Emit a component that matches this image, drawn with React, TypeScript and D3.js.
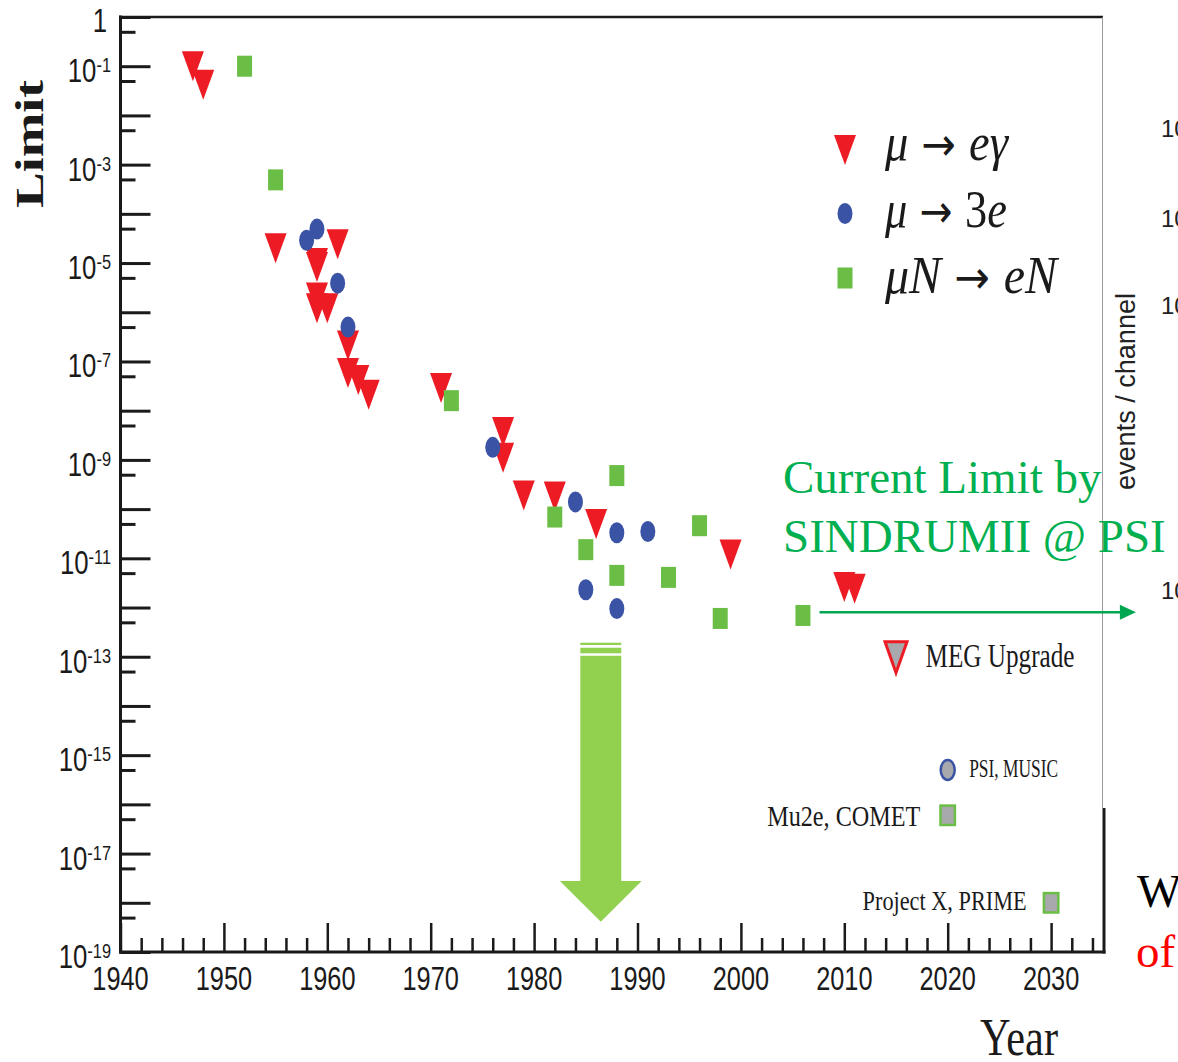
import React, { useEffect, useRef } from "react";
import * as d3 from "d3";

// mu -> e gamma limits
const megYears = [1947, 1948, 1955, 1959, 1959, 1961, 1959, 1959, 1960, 1962, 1962, 1963, 1964, 1971, 1977, 1977, 1979, 1982, 1986, 1999, 2010, 2011];
const megLimits = [1.0e-1, 4.2e-2, 2.0e-5, 1.0e-5, 8.3e-6, 2.4e-5, 2.0e-6, 1.2e-6, 1.2e-6, 2.1e-7, 5.8e-8, 4.2e-8, 2.1e-8, 2.9e-8, 3.7e-9, 1.1e-9, 1.9e-10, 1.8e-10, 5.0e-11, 1.2e-11, 2.6e-12, 2.4e-12];

// mu -> 3e limits
const m3eYears = [1958, 1959, 1961, 1962, 1976, 1984, 1988, 1991, 1985, 1988];
const m3eLimits = [2.9e-5, 4.9e-5, 3.9e-6, 5.0e-7, 1.8e-9, 1.4e-10, 3.3e-11, 3.5e-11, 2.3e-12, 9.5e-13];

// mu N -> e N limits
const convYears = [1952, 1955, 1972, 1988, 1982, 1996, 1985, 1988, 1993, 1998, 2006];
const convLimits = [1.0e-1, 4.9e-4, 1.6e-8, 4.8e-10, 6.9e-11, 4.6e-11, 1.5e-11, 4.5e-12, 4.1e-12, 6.0e-13, 6.9e-13];

// planned experiments
const futureNames = ["MEG Upgrade", "PSI, MUSIC", "Mu2e, COMET", "Project X, PRIME"];
const futureKinds = ["tri", "circ", "sq", "sq"];
const futureYears = [2015, 2020, 2020, 2030];
const futureLimits = [1e-13, 5e-16, 6e-17, 1e-18];

const legendLabels = ["μ → eγ", "μ → 3e", "μN → eN"];
const legendKinds = ["tri", "circ", "sq"];

const yearTicks = [1940, 1950, 1960, 1970, 1980, 1990, 2000, 2010, 2020, 2030];
const decadeExps = d3.range(0, -20, -1);
const labelExps = [0, -1, -3, -5, -7, -9, -11, -13, -15, -17, -19];

// SINDRUM II current limit arrow, and the big improvement arrow (log10 values)
const currentLimit = 8e-13;
const currentArrowYears = [2007.6, 2038.2];
const bigArrowYear = 1986.45;
const bigArrowExps = [-12.715, -12.762, -12.817, -12.93, -12.979, -17.557, -18.384];

const RED = "#ED1C24";
const BLUE = "#3A53A4";
const GREEN = "#6BBE45";
const GREY = "#A7A9AC";
const INK = "#1a1a1a";
const SANS = "'Liberation Sans', Arial, sans-serif";
const SERIF = "'Liberation Serif', 'Times New Roman', serif";

const triPath = "M-11,-15L11,-15L0,15Z";

export default function App() {
  const ref = useRef<SVGSVGElement>(null);

  useEffect(() => {
    const svg = d3.select(ref.current);
    svg.selectAll("*").remove();

    const x = d3.scaleLinear().domain([1940, 2035]).range([120.5, 1102.8]);
    const y = d3.scaleLog().domain([1, 1e-19]).range([17, 952]);

    const addAxis = (axis: any, transform: string, w: number) => {
      const g = svg.append("g").attr("transform", transform).call(axis);
      g.select(".domain").remove();
      g.selectAll(".tick text").remove();
      g.selectAll(".tick line").attr("stroke", INK).attr("stroke-width", w);
      return g;
    };

    const majorY = decadeExps.map((e) => Math.pow(10, e));
    const minorY = decadeExps.slice(1).map((e) => 5 * Math.pow(10, e));
    addAxis(d3.axisLeft(y).tickValues(majorY).tickSizeInner(-30).tickSizeOuter(0), "translate(120.5,0)", 3);
    addAxis(d3.axisLeft(y).tickValues(minorY).tickSizeInner(-15).tickSizeOuter(0), "translate(120.5,0)", 3);

    const minorYears = d3.range(1942, 2036, 2).filter((v) => v % 10 !== 0);
    addAxis(d3.axisBottom(x).tickValues(yearTicks).tickSizeInner(-29).tickSizeOuter(0), "translate(0,952)", 2.5);
    addAxis(d3.axisBottom(x).tickValues(minorYears).tickSizeInner(-14).tickSizeOuter(0), "translate(0,952)", 2.5);

    // frame
    const frame = svg.append("g").attr("fill", "none");
    frame.append("line").attr("x1", 120.5).attr("x2", 120.5).attr("y1", 15.5).attr("y2", 953.5).attr("stroke", INK).attr("stroke-width", 3);
    frame.append("line").attr("x1", 119).attr("x2", 1105.5).attr("y1", 952).attr("y2", 952).attr("stroke", INK).attr("stroke-width", 3);
    frame.append("line").attr("x1", 119).attr("x2", 1103).attr("y1", 17).attr("y2", 17).attr("stroke", INK).attr("stroke-width", 2.5);
    frame.append("line").attr("x1", 1102.5).attr("x2", 1102.5).attr("y1", 17).attr("y2", 808).attr("stroke", "#9a9a9a").attr("stroke-width", 1);
    frame.append("line").attr("x1", 1104).attr("x2", 1104).attr("y1", 808).attr("y2", 953.5).attr("stroke", INK).attr("stroke-width", 3);

    // tick labels
    yearTicks.forEach((yr) => {
      svg.append("text")
        .attr("transform", `translate(${x(yr)},990) scale(0.78,1)`)
        .attr("text-anchor", "middle")
        .attr("font-family", SANS)
        .attr("font-size", 32.5)
        .attr("fill", INK)
        .text(yr);
    });
    labelExps.forEach((e) => {
      const v = Math.pow(10, e);
      const t = svg.append("text")
        .attr("text-anchor", "end")
        .attr("font-family", SANS)
        .attr("font-size", 33)
        .attr("fill", INK);
      if (e === 0) {
        t.attr("transform", `translate(107,${y(v) + 15}) scale(0.78,1)`).text("1");
      } else {
        t.attr("transform", `translate(111,${y(v) + 16}) scale(0.78,1)`);
        t.append("tspan").text("10");
        t.append("tspan").attr("font-size", 21).attr("dy", -10).text(String(e));
      }
    });

    // axis titles
    svg.append("text")
      .attr("transform", "translate(43,144) rotate(-90)")
      .attr("text-anchor", "middle")
      .attr("font-family", SERIF)
      .attr("font-weight", "bold")
      .attr("font-size", 40)
      .attr("textLength", 128)
      .attr("lengthAdjust", "spacingAndGlyphs")
      .attr("fill", INK)
      .text("Limit");
    svg.append("text")
      .attr("x", 980)
      .attr("y", 1055)
      .attr("font-family", SERIF)
      .attr("font-size", 52)
      .attr("textLength", 78)
      .attr("lengthAdjust", "spacingAndGlyphs")
      .attr("fill", INK)
      .text("Year");

    // big green arrow
    const [s1a, s1b, s2a, s2b, sa, sb, tip] = bigArrowExps.map((e) => y(Math.pow(10, e)));
    const xl = x(bigArrowYear - 1.98), xr = x(bigArrowYear + 1.98);
    const hl = x(bigArrowYear - 3.95), hr = x(bigArrowYear + 3.95), xc = x(bigArrowYear);
    const big = svg.append("g").attr("fill", "#92D050");
    big.append("rect").attr("x", xl).attr("y", s1a).attr("width", xr - xl).attr("height", s1b - s1a);
    big.append("rect").attr("x", xl).attr("y", s2a).attr("width", xr - xl).attr("height", s2b - s2a);
    big.append("path").attr("d", `M${xl},${sa}L${xr},${sa}L${xr},${sb}L${hr},${sb}L${xc},${tip}L${hl},${sb}L${xl},${sb}Z`);

    // data markers
    const drawKind = (g: any, kind: string, fill: string) => {
      if (kind === "tri") g.append("path").attr("d", triPath);
      else if (kind === "circ") g.append("ellipse").attr("rx", 7.5).attr("ry", 10.5);
      else g.append("rect").attr("x", -7.5).attr("y", -10.5).attr("width", 15).attr("height", 21);
      g.select("*").attr("fill", fill);
    };
    const series: [number[], number[], string, string][] = [
      [megYears, megLimits, "tri", RED],
      [m3eYears, m3eLimits, "circ", BLUE],
      [convYears, convLimits, "sq", GREEN],
    ];
    series.forEach(([ys, vs, kind, col]) => {
      const g = svg.append("g");
      d3.zip(ys, vs).forEach(([yr, v]) => {
        const m = g.append("g").attr("transform", `translate(${x(yr)},${y(v)})`);
        drawKind(m, kind, col);
      });
    });

    // legend
    legendLabels.forEach((lab, i) => {
      const cy = [150, 213.5, 278][i];
      const m = svg.append("g").attr("transform", `translate(845,${cy})`);
      drawKind(m, legendKinds[i], [RED, BLUE, GREEN][i]);
      const t = svg.append("text")
        .attr("x", 885)
        .attr("y", cy + [10, 13.5, 15][i])
        .attr("font-family", SERIF)
        .attr("font-size", 52)
        .attr("textLength", [123, 122, 172][i])
        .attr("lengthAdjust", "spacingAndGlyphs")
        .attr("fill", INK);
      lab.split(/( → |\d)/).filter((p) => p !== "").forEach((p) => {
        const arrow = p === " → ";
        const upright = arrow || /\d/.test(p);
        const ts = t.append("tspan").attr("font-style", upright ? "normal" : "italic").text(p);
        if (arrow) ts.attr("font-family", "'DejaVu Sans', sans-serif").attr("font-size", 46);
      });
    });

    // planned experiments
    const futureLayout = [
      { dx: 29.5, dy: 10, anchor: "start", size: 33, len: 149 },
      { dx: 21.5, dy: 7.5, anchor: "start", size: 25, len: 89 },
      { dx: -27.5, dy: 11, anchor: "end", size: 30, len: 153 },
      { dx: -24.5, dy: 7, anchor: "end", size: 27, len: 164 },
    ];
    futureNames.forEach((name, i) => {
      const px = x(futureYears[i]), py = y(futureLimits[i]);
      const kind = futureKinds[i];
      const m = svg.append("g").attr("transform", `translate(${px},${py})`);
      if (kind === "tri") {
        m.append("path").attr("d", "M-11,-15L11,-15L0,16Z").attr("fill", GREY).attr("stroke", RED).attr("stroke-width", 3);
      } else if (kind === "circ") {
        m.append("ellipse").attr("rx", 7).attr("ry", 10).attr("fill", GREY).attr("stroke", BLUE).attr("stroke-width", 2.5);
      } else {
        m.append("rect").attr("x", -7.2).attr("y", -9.7).attr("width", 14.4).attr("height", 19.4).attr("fill", GREY).attr("stroke", GREEN).attr("stroke-width", 2.5);
      }
      const L = futureLayout[i];
      svg.append("text")
        .attr("x", px + L.dx)
        .attr("y", py + L.dy)
        .attr("text-anchor", L.anchor)
        .attr("font-family", SERIF)
        .attr("font-size", L.size)
        .attr("textLength", L.len)
        .attr("lengthAdjust", "spacingAndGlyphs")
        .attr("fill", INK)
        .text(name);
    });

    // current limit arrow
    const ay = y(currentLimit);
    const ax0 = x(currentArrowYears[0]), ax1 = x(currentArrowYears[1]);
    svg.append("line").attr("x1", ax0).attr("x2", ax1 - 12).attr("y1", ay).attr("y2", ay).attr("stroke", "#00A650").attr("stroke-width", 2.5);
    svg.append("path").attr("d", `M${ax1 - 16},${ay - 7.5}L${ax1},${ay}L${ax1 - 16},${ay + 7.5}Z`).attr("fill", "#00A650");

    const green = svg.append("g").attr("font-family", SERIF).attr("font-size", 47).attr("fill", "#00B050");
    green.append("text").attr("x", 783).attr("y", 493).text("Current Limit by");
    green.append("text").attr("x", 783).attr("y", 552).text("SINDRUMII @ PSI");

    // pieces of the neighbouring slide content
    svg.append("text")
      .attr("transform", "translate(1135,391.5) rotate(-90)")
      .attr("text-anchor", "middle")
      .attr("font-family", SANS)
      .attr("font-size", 27)
      .attr("textLength", 197)
      .attr("lengthAdjust", "spacingAndGlyphs")
      .attr("fill", "#222")
      .text("events / channel");
    [137, 227, 314, 599].forEach((by) => {
      svg.append("text").attr("x", 1161).attr("y", by).attr("font-family", SANS).attr("font-size", 24).attr("fill", "#222").text("10");
    });
    svg.append("text").attr("x", 1137).attr("y", 907).attr("font-family", SERIF).attr("font-size", 47).attr("fill", "#000").text("W");
    svg.append("text").attr("x", 1136).attr("y", 967).attr("font-family", SERIF).attr("font-size", 47).attr("fill", "#FF0000").text("of");
  }, []);

  return (
    <svg
      ref={ref}
      width={1178}
      height={1062}
      style={{ position: "absolute", left: 0, top: 0, background: "#fff", display: "block" }}
    />
  );
}
